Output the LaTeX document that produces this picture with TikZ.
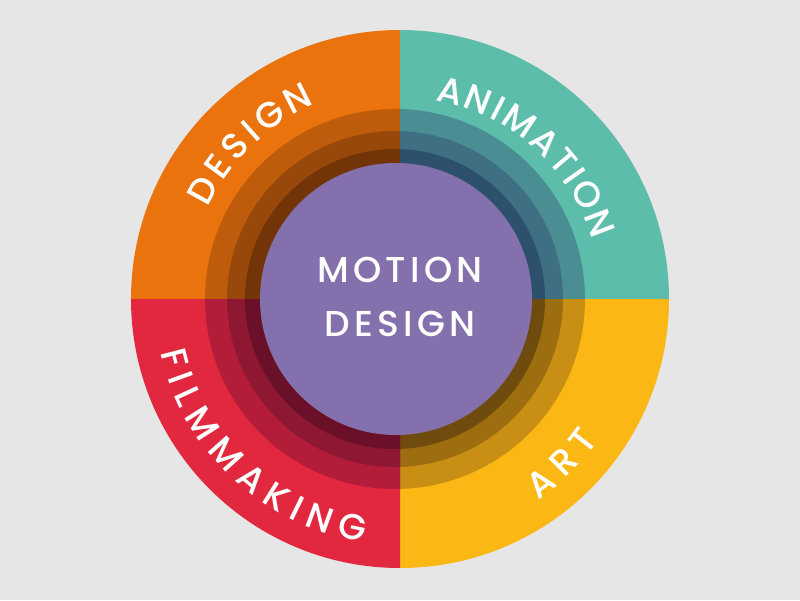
\documentclass[tikz,border=0pt]{standalone}
\usepackage{fontspec}
\setmainfont{Poppins}[UprightFont={* Medium}]
\usetikzlibrary{positioning}

\definecolor{bggray}{HTML}{E6E6E6}
\definecolor{motionpurple}{HTML}{8470AC}
\definecolor{design0}{HTML}{EB730E}
\definecolor{design1}{HTML}{BE5C0B}
\definecolor{design2}{HTML}{97480A}
\definecolor{design3}{HTML}{733507}
\definecolor{anim0}{HTML}{5CBDAB}
\definecolor{anim1}{HTML}{4A8D92}
\definecolor{anim2}{HTML}{3E6F82}
\definecolor{anim3}{HTML}{2D506C}
\definecolor{art0}{HTML}{FBB713}
\definecolor{art1}{HTML}{C98F14}
\definecolor{art2}{HTML}{9D6E10}
\definecolor{art3}{HTML}{6F4C0E}
\definecolor{film0}{HTML}{E2283F}
\definecolor{film1}{HTML}{B41D3A}
\definecolor{film2}{HTML}{8E1732}
\definecolor{film3}{HTML}{6A1028}

\newdimen\ringtot
\newdimen\ringacc
\newdimen\ringwd
\newcommand\ringfont{\fontsize{36}{36}\selectfont}
\newcommand\ringmeasure[1]{\pgfinterruptpicture
  \setbox0=\hbox{\ringfont#1}\global\ringwd=\wd0 \endpgfinterruptpicture}
% radius, centre angle, sense (1 = tops inward, -1 = tops outward), tracking, letters
\newcommand\ringtext[5]{%
  \global\ringtot=0pt
  \foreach \c in {#5}{\ringmeasure{\c}%
    \global\advance\ringtot by \ringwd \global\advance\ringtot by #4}%
  \global\advance\ringtot by -#4
  \global\ringacc=0pt
  \foreach \c in {#5}{%
    \ringmeasure{\c}%
    \pgfmathsetmacro\ang{#2+(#3)*(\the\ringacc+0.5*\the\ringwd-0.5*\the\ringtot)/#1*57.2958}%
    \node[ringlabel, rotate=\ang+(#3)*90] at (\ang:#1pt) {\c};
    \global\advance\ringacc by \ringwd \global\advance\ringacc by #4}}

\tikzset{
  ringlabel/.style={text=white, font=\ringfont, inner sep=0pt, anchor=center},
  centerlabel/.style={text=white, font=\fontsize{36}{36}\selectfont\addfontfeature{LetterSpace=12},
    inner sep=0pt}
}

\begin{document}
\begin{tikzpicture}[x=1pt,y=1pt]
\fill[bggray] (-400,-301) rectangle (400,299);
\useasboundingbox (-400,-301) rectangle (400,299);

% quadrants with darker inner rings
\foreach \q/\xs/\ys in {design/-1/1, anim/1/1, art/1/-1, film/-1/-1}{
  \begin{scope}
    \clip (0,0) rectangle (\xs*280,\ys*280);
    \fill[\q0] (0,0) circle (269pt);
    \fill[\q1] (-5,0) circle (190pt);
    \fill[\q2] (-5,0) circle (168pt);
    \fill[\q3] (-5,0) circle (150pt);
  \end{scope}
}
\fill[motionpurple] (-4,0) circle (136pt);

\node[centerlabel] (motion) at (0,29.5) {MOTION};
\node[centerlabel, below=28pt of motion] (designc) {DESIGN};

\ringtext{225}{134}{-1}{6pt}{D,E,S,I,G,N}
\ringtext{214}{48.5}{-1}{4pt}{A,N,I,M,A,T,I,O,N}
\ringtext{231}{-45.5}{1}{7pt}{A,R,T}
\ringtext{233}{227}{1}{7pt}{F,I,L,M,M,A,K,I,N,G}
\end{tikzpicture}
\end{document}
